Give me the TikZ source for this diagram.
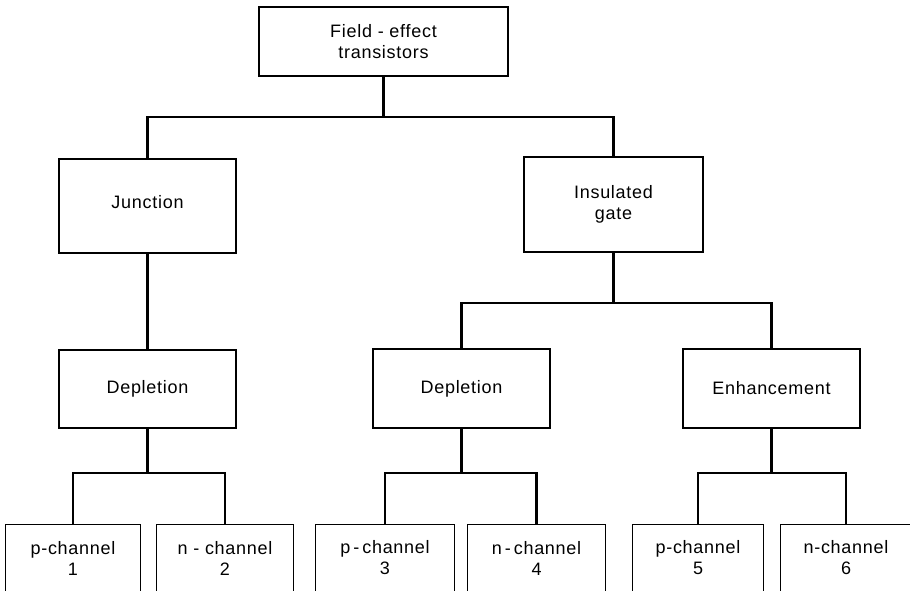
\documentclass[tikz,border=0pt]{standalone}
\usepackage{fontspec}
\setmainfont[LetterSpace=4]{Liberation Sans}
\begin{document}
\begin{tikzpicture}[x=1pt,y=-1pt,
  box/.style={draw, line width=1.1pt, inner sep=0pt, align=center, font=\fontsize{18}{21}\selectfont},
  leaf/.style={inner sep=0pt, align=center, font=\fontsize{18}{21}\selectfont, minimum height=66pt},
  conn/.style={line width=2.4pt}]
\useasboundingbox (0,0) rectangle (910,591);
\clip (0,0) rectangle (910,591);
\fill[white] (0,0) rectangle (910,591);
% boxes
\node[box, minimum width=249pt, minimum height=69pt] (top) at (383.5,41.5) {Field - effect\\transistors};
\node[box, minimum width=177pt, minimum height=94pt] (junc) at (147.5,206) {\raisebox{8pt}{Junction}};
\node[box, minimum width=179pt, minimum height=95pt] (ins) at (613.5,204.5) {Insulated\\gate};
\node[box, minimum width=177pt, minimum height=78pt] (dep1) at (147.5,389) {Depletion};
\node[box, minimum width=177pt, minimum height=79pt] (dep2) at (461.5,388.5) {Depletion};
\node[box, minimum width=177pt, minimum height=79pt] (enh) at (771.5,388.5) {Enhancement};
% leaves
\node[leaf, minimum width=134pt] (p1) at (73,558) {p-channel\\1};
\node[leaf, minimum width=136pt] (n2) at (225,558) {n - channel\\2};
\node[leaf, minimum width=138pt] (p3) at (385,558) {p\,-\,channel\\3};
\node[leaf, minimum width=137pt] (n4) at (536.5,558) {n\,-\,channel\\4};
\node[leaf, minimum width=130pt] (p5) at (698,558) {p-channel\\5};
\node[leaf, minimum width=130pt] (n6) at (846,558) {n-channel\\6};
\foreach \n in {p1,n2,p3,n4,p5,n6}{
  \draw[line width=1.1pt] ([yshift=-5pt]\n.south west) -- (\n.north west) -- (\n.north east) -- ([yshift=-5pt]\n.south east);
}
% connectors
\coordinate (b1) at (383.5,117);
\coordinate (b2) at (613.5,303);
\coordinate (b3) at (147.5,473);
\coordinate (b4) at (461.5,473);
\coordinate (b5) at (771.5,473);
\draw[conn] (top.south) -- (b1);
\draw[conn] (junc.north) |- (b1) -| (ins.north);
\draw[conn] (junc.south) -- (dep1.north);
\draw[conn] (ins.south) -- (b2);
\draw[conn] (dep2.north) |- (b2) -| (enh.north);
\draw[conn] (dep1.south) -- (b3);
\draw[conn] (p1.north) |- (b3) -| (n2.north);
\draw[conn] (dep2.south) -- (b4);
\draw[conn] (p3.north) |- (b4) -| (n4.north);
\draw[conn] (enh.south) -- (b5);
\draw[conn] (p5.north) |- (b5) -| (n6.north);
\end{tikzpicture}
\end{document}
